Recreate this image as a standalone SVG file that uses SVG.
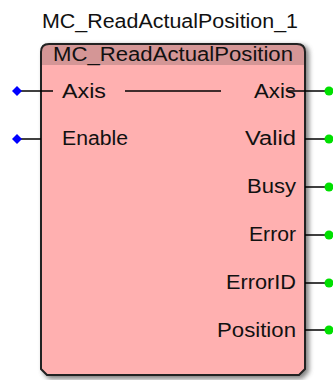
<svg xmlns="http://www.w3.org/2000/svg" width="333" height="380" viewBox="0 0 333 380">
<style>
text{font-family:"Liberation Sans",Arial,sans-serif;font-size:20px;fill:#111}
.l{text-anchor:start}
.r{text-anchor:end}
.w{stroke:#000;stroke-width:1.5;fill:none}
.in{fill:#0000ff}
.out{fill:#00e000}
</style>
<defs>
<filter id="sh" x="-10%" y="-10%" width="130%" height="130%">
<feGaussianBlur stdDeviation="2.5"/>
</filter>
<clipPath id="bc"><path d="M41,52 Q41,44 49,44 L297,44 Q305,44 305,52 L305,369 L299,375 L47,375 L41,369 Z"/></clipPath>
</defs>
<text x="170" y="28" text-anchor="middle" textLength="256" lengthAdjust="spacingAndGlyphs">MC_ReadActualPosition_1</text>
<g id="block">
<path d="M43,54 Q43,45 51,45 L300,45 Q309,45 309,54 L309,372 L302,379 L49,379 L43,372 Z" fill="#555" opacity="0.75" filter="url(#sh)"/>
<path d="M41,52 Q41,44 49,44 L297,44 Q305,44 305,52 L305,369 L299,375 L47,375 L41,369 Z" fill="#ffb0b0"/>
<g clip-path="url(#bc)">
<rect x="41" y="44" width="264" height="21" fill="#d49696"/>
<text x="173" y="61" text-anchor="middle" font-size="22" textLength="240" lengthAdjust="spacingAndGlyphs">MC_ReadActualPosition</text>
</g>
<path d="M41,52 Q41,44 49,44 L297,44 Q305,44 305,52 L305,369 L299,375 L47,375 L41,369 Z" fill="none" stroke="#222" stroke-width="2"/>
</g>
<g id="connectors">
<line class="w" x1="17" y1="91" x2="53" y2="91"/>
<line class="w" x1="17" y1="139" x2="41" y2="139"/>
<line class="w" x1="125" y1="91" x2="221" y2="91"/>
<line class="w" x1="288" y1="91" x2="329" y2="91"/>
<line class="w" x1="305" y1="139" x2="329" y2="139"/>
<line class="w" x1="305" y1="187" x2="329" y2="187"/>
<line class="w" x1="305" y1="235" x2="329" y2="235"/>
<line class="w" x1="305" y1="283" x2="329" y2="283"/>
<line class="w" x1="305" y1="330" x2="329" y2="330"/>
</g>
<g id="pin-in-axis"><path class="in" d="M17,86 L22,91 L17,96 L12,91 Z"/><text class="l" x="62" y="98" textLength="44" lengthAdjust="spacingAndGlyphs">Axis</text></g>
<g id="pin-in-enable"><path class="in" d="M17,134 L22,139 L17,144 L12,139 Z"/><text class="l" x="62" y="145" textLength="66" lengthAdjust="spacingAndGlyphs">Enable</text></g>
<g id="pin-out-axis"><circle class="out" cx="329" cy="91" r="4.5"/><text class="r" x="296" y="98" textLength="42" lengthAdjust="spacingAndGlyphs">Axis</text></g>
<g id="pin-out-valid"><circle class="out" cx="329" cy="139" r="4.5"/><text class="r" x="296" y="145" textLength="51" lengthAdjust="spacingAndGlyphs">Valid</text></g>
<g id="pin-out-busy"><circle class="out" cx="329" cy="187" r="4.5"/><text class="r" x="296" y="193" textLength="49" lengthAdjust="spacingAndGlyphs">Busy</text></g>
<g id="pin-out-error"><circle class="out" cx="329" cy="235" r="4.5"/><text class="r" x="296" y="241" textLength="47" lengthAdjust="spacingAndGlyphs">Error</text></g>
<g id="pin-out-errorid"><circle class="out" cx="329" cy="283" r="4.5"/><text class="r" x="296" y="289" textLength="70" lengthAdjust="spacingAndGlyphs">ErrorID</text></g>
<g id="pin-out-position"><circle class="out" cx="329" cy="330" r="4.5"/><text class="r" x="296" y="337" textLength="79" lengthAdjust="spacingAndGlyphs">Position</text></g>
</svg>
